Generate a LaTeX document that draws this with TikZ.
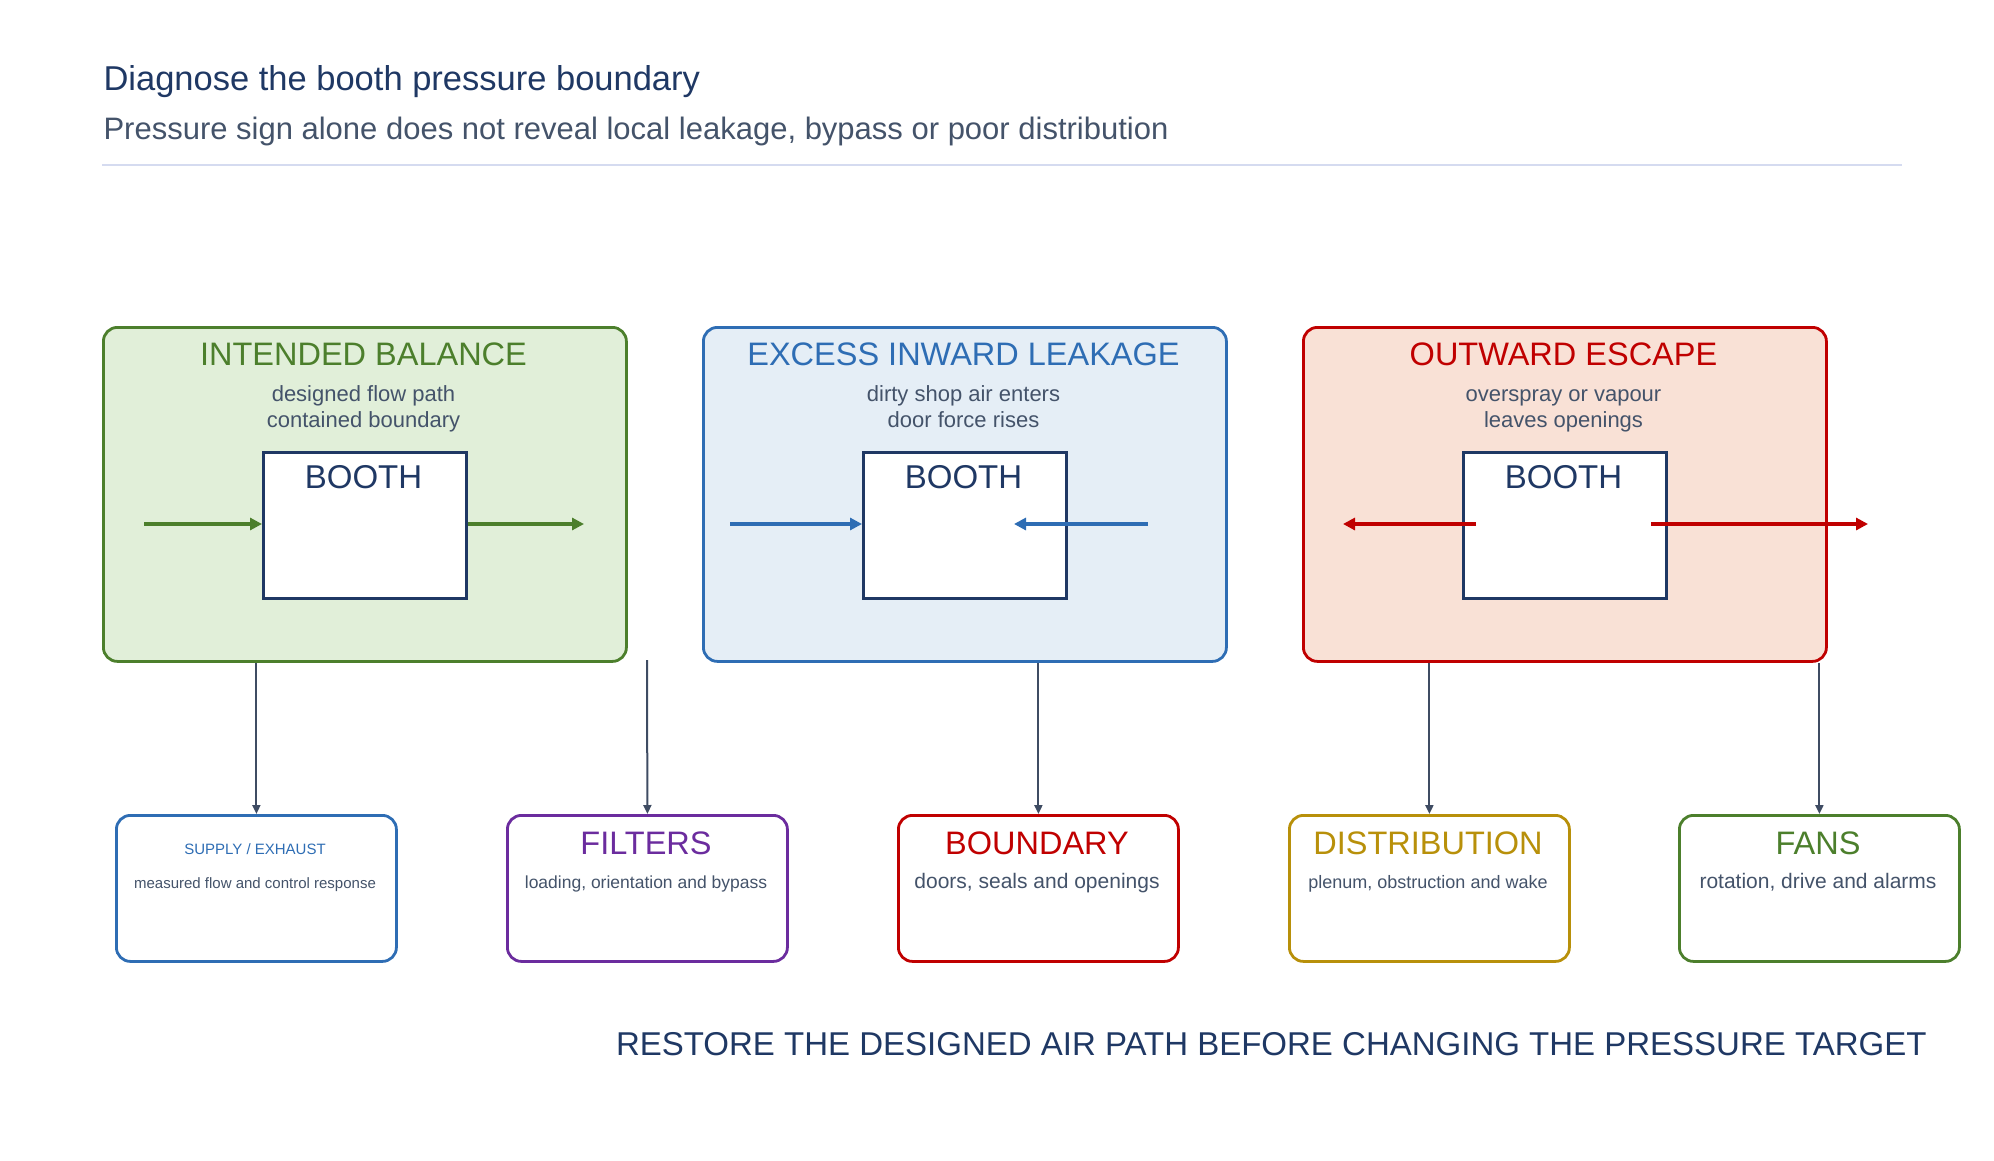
\documentclass[tikz,border=0pt]{standalone}
\usepackage{fontspec}
\setmainfont{Liberation Sans}
\usetikzlibrary{arrows.meta}
\definecolor{cg}{HTML}{4C7F2C}\definecolor{cgf}{HTML}{E1EFD9}
\definecolor{cb}{HTML}{2E6DB4}\definecolor{cbf}{HTML}{E5EEF6}
\definecolor{cr}{HTML}{C00000}\definecolor{crf}{HTML}{F9E1D6}
\definecolor{cp}{HTML}{6B2C9E}\definecolor{cy}{HTML}{B8900A}
\definecolor{navy}{HTML}{1F3864}\definecolor{txt}{HTML}{44536A}
\definecolor{arr}{HTML}{3F4C63}\definecolor{rule}{HTML}{D5DBF0}
\newcommand{\fs}[1]{\fontsize{#1}{#1}\selectfont}
\begin{document}
\begin{tikzpicture}[x=1pt,y=-1pt,
 panel/.style={draw=#1,line width=2.8pt,rounded corners=14pt,fill=#1f},
 booth/.style={draw=navy,fill=white,line width=2.5pt},
 bot/.style={draw=#1,line width=2.8pt,rounded corners=14pt,fill=white},
 flow/.style={#1,line width=3.5pt,-{Triangle[length=12pt,width=12pt]}},
 link/.style={arr,line width=2pt,-{Triangle[length=9pt,width=8pt]}},
 ptitle/.style={font=\fs{32.5},text=#1,anchor=base},
 psub/.style={font=\fs{22},text=txt,anchor=base,align=center},
 btitle/.style={font=\fs{33},text=navy,anchor=base}]
\useasboundingbox (0,0) rectangle (1994,1161);
\node[font=\fs{34.5},text=navy,anchor=base west] (t) at (100,91) {Diagnose the booth pressure boundary};
\node[font=\fs{31},text=txt,anchor=base west] (st) at (100,140) {Pressure sign alone does not reveal local leakage, bypass or poor distribution};
\draw[rule,line width=2pt] (102,165) -- (1902,165);
% panels
\foreach \n/\c/\x in {pg/cg/102,pb/cb/702,pr/cr/1302}{
  \node[panel=\c,minimum width=523pt,minimum height=334pt,anchor=north west] (\n) at (\x,326) {};
  \node[booth,minimum width=203pt,minimum height=146pt,anchor=north west] (\n b) at (\x+160,451) {};
  \node[btitle] at (\x+261.5,488) {BOOTH};
}
\node[ptitle=cg] at (363.5,365) {INTENDED BALANCE};
\node[psub] at (363.5,401) {designed flow path};
\node[psub] at (363.5,427) {contained boundary};
\node[ptitle=cb] at (963.5,365) {EXCESS INWARD LEAKAGE};
\node[psub] at (963.5,401) {dirty shop air enters};
\node[psub] at (963.5,427) {door force rises};
\node[ptitle=cr] at (1563.5,365) {OUTWARD ESCAPE};
\node[psub] at (1563.5,401) {overspray or vapour};
\node[psub] at (1563.5,427) {leaves openings};
\coordinate (g1) at (144,524);\coordinate (g2) at (584,524);
\draw[flow=cg] (g1) -- (pgb.west|-g1);
\draw[flow=cg] (pgb.east|-g1) -- (g2);
\coordinate (b1) at (730,524);\coordinate (b2) at (1148,524);\coordinate (b3) at (1014,524);
\draw[flow=cb] (b1) -- (pbb.west|-b1);
\draw[flow=cb] (b2) -- (b3);
\coordinate (r1) at (1476,524);\coordinate (r2) at (1343,524);\coordinate (r3) at (1651,524);\coordinate (r4) at (1868,524);
\draw[flow=cr] (r1) -- (r2);
\draw[flow=cr] (r3) -- (r4);
% bottom boxes
\foreach \n/\c/\x/\t/\d/\s/\ts in {
 k1/cb/115/{SUPPLY / EXHAUST}/{measured flow and control response}/15,
 k2/cp/506/{FILTERS}/{loading, orientation and bypass}/17.5/32.5,
 k3/cr/897/{BOUNDARY}/{doors, seals and openings}/21/32.5,
 k4/cy/1288/{DISTRIBUTION}/{plenum, obstruction and wake}/18/32.5,
 k5/cg/1678/{FANS}/{rotation, drive and alarms}/21/32.5}{
 \node[bot=\c,minimum width=280pt,minimum height=146pt,anchor=north west] (\n) at (\x,814) {};
 \node[font=\fs{\ts},text=\c,anchor=base] at (\x+140,854) {\t};
 \node[font=\fs{\s},text=txt,anchor=base] at (\x+140,888) {\d};
}
\draw[link] (pg.south-|k1.north) -- (k1.north);
\coordinate (f0) at (647,660);
\draw[link] (f0) -- (k2.north);
\draw[link] (pb.south-|k3.north) -- (k3.north);
\draw[link] (pr.south-|k4.north) -- (k4.north);
\draw[link] (pr.south-|k5.north) -- (k5.north);
\node[font=\fs{33},text=navy,anchor=base east] (ban) at (1930,1055) {RESTORE THE DESIGNED AIR PATH BEFORE CHANGING THE PRESSURE TARGET};
\end{tikzpicture}
\end{document}
